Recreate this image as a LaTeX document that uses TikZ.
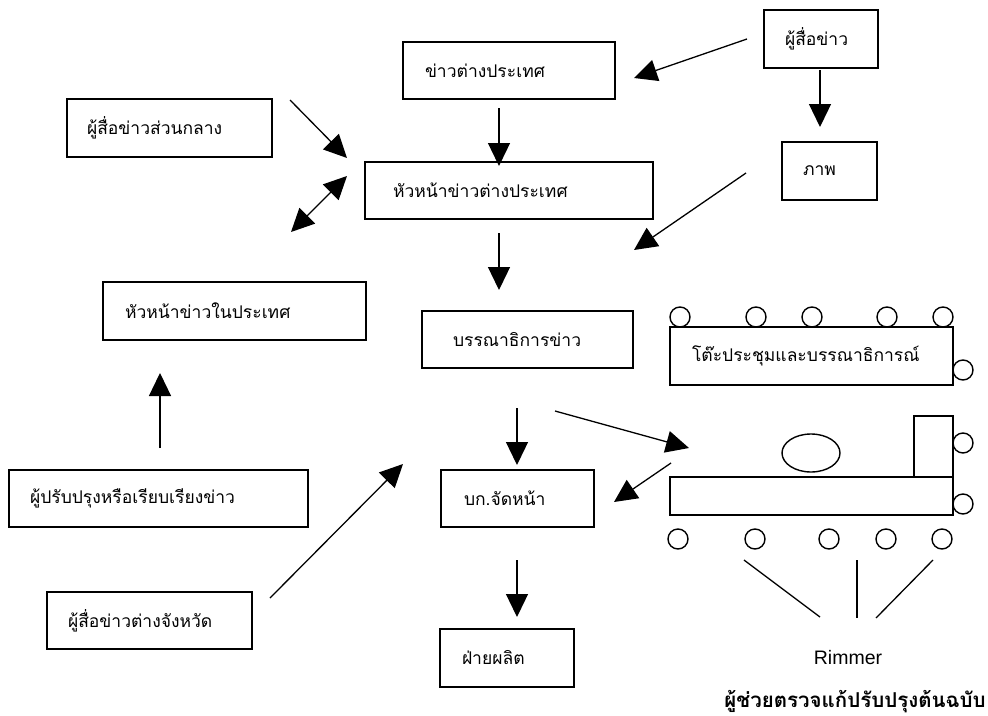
\documentclass[tikz,border=0pt]{standalone}
\usepackage{fontspec}
\newfontfamily\thaifont[Script=Thai]{Loma}
\setsansfont{Liberation Sans}
\usetikzlibrary{arrows.meta}
\begin{document}
\begin{tikzpicture}[x=1pt,y=-1pt,
  box/.style={draw, line width=1.4pt, align=left, inner ysep=0pt,
    font=\thaifont\fontsize{17.5}{20}\selectfont},
  arr/.style={line width=1.3pt, -{Triangle[length=23pt,width=22pt]}},
  darr/.style={line width=1.3pt, {Triangle[length=23pt,width=22pt]}-{Triangle[length=23pt,width=22pt]}},
  furn/.style={line width=1.4pt},
]
\useasboundingbox (0,0) rectangle (988,715);
% boxes
\node[box, inner xsep=22pt, text width=168pt, minimum height=57pt] (kt) at (509,70.5) {ข่าวต่างประเทศ};
\node[box, inner xsep=21pt, text width=72pt, minimum height=58pt] (ps) at (821,39) {ผู้สื่อข่าว};
\node[box, inner xsep=20pt, text width=165pt, minimum height=58pt] (psc) at (169.5,128) {ผู้สื่อข่าวส่วนกลาง};
\node[box, inner xsep=28pt, text width=232pt, minimum height=57pt] (hkt) at (509,190.5) {หัวหน้าข่าวต่างประเทศ};
\node[box, inner xsep=21pt, text width=53pt, minimum height=58pt] (pic) at (829.5,171) {ภาพ};
\node[box, inner xsep=22pt, text width=219pt, minimum height=58pt] (hni) at (234.5,311) {หัวหน้าข่าวในประเทศ};
\node[box, inner xsep=31pt, text width=149pt, minimum height=57pt] (ed) at (527.5,339.5) {บรรณาธิการข่าว};
\node[box, inner xsep=22pt, text width=239pt, minimum height=58pt] (tbl) at (811.5,356) {โต๊ะประชุมและบรรณาธิการณ์};
\node[box, inner xsep=23pt, text width=107pt, minimum height=57pt] (pl) at (517.5,498.5) {บก.จัดหน้า};
\node[box, inner xsep=22pt, text width=90pt, minimum height=58pt] (pr) at (507,658) {ฝ่ายผลิต};
\node[box, inner xsep=21pt, text width=257pt, minimum height=57pt] (rw) at (158.5,498.5) {ผู้ปรับปรุงหรือเรียบเรียงข่าว};
\node[box, inner xsep=21pt, text width=163pt, minimum height=57pt] (pv) at (149.5,620.5) {ผู้สื่อข่าวต่างจังหวัด};
% arrow end points
\coordinate (a1s) at (747,39);  \coordinate (a1e) at (634,78);
\coordinate (a2s) at (820,70);  \coordinate (a2e) at (820,127);
\coordinate (a3s) at (499,108); \coordinate (a3e) at (499,166);
\coordinate (a4s) at (290,100); \coordinate (a4e) at (347,158);
\coordinate (a5s) at (347,176); \coordinate (a5e) at (291,232);
\coordinate (a6s) at (746,173); \coordinate (a6e) at (634,250);
\coordinate (a7s) at (499,233); \coordinate (a7e) at (499,290);
\coordinate (a8s) at (160,448); \coordinate (a8e) at (160,373);
\coordinate (a9s) at (270,598); \coordinate (a9e) at (403,464);
\coordinate (a10s) at (517,408); \coordinate (a10e) at (517,465);
\coordinate (a11s) at (555,411); \coordinate (a11e) at (689,448);
\coordinate (a12s) at (671,463); \coordinate (a12e) at (614,502);
\coordinate (a13s) at (517,560); \coordinate (a13e) at (517,617);
\draw[arr] (a1s) -- (a1e);
\draw[arr] (a2s) -- (a2e);
\draw[arr] (a3s) -- (a3e);
\draw[arr] (a4s) -- (a4e);
\draw[darr] (a5s) -- (a5e);
\draw[arr] (a6s) -- (a6e);
\draw[arr] (a7s) -- (a7e);
\draw[arr] (a8s) -- (a8e);
\draw[arr] (a9s) -- (a9e);
\draw[arr] (a10s) -- (a10e);
\draw[arr] (a11s) -- (a11e);
\draw[arr] (a12s) -- (a12e);
\draw[arr] (a13s) -- (a13e);
% meeting table circles
\foreach \cx in {680,756,812,887,943} \draw[furn] (\cx,317) circle (10pt);
\draw[furn] (963,370) circle (10pt);
% rimmer table
\draw[furn] (670,477) rectangle (953,515);
\draw[furn] (914,477) rectangle (953,416);
\draw[furn] (811,453) ellipse (29pt and 19pt);
\draw[furn] (963,443) circle (10pt);
\draw[furn] (963,504) circle (10pt);
\foreach \cx in {678,755,829,886,942} \draw[furn] (\cx,539) circle (10pt);
\draw[line width=1.3pt] (744,560) -- (820,617);
\draw[line width=1.3pt] (857,560) -- (857,618);
\draw[line width=1.3pt] (933,560) -- (876,618);
\node[font=\sffamily\fontsize{19.5}{22}\selectfont] (rim) at (848,658) {Rimmer};
\node[font=\thaifont\bfseries\fontsize{20.5}{24}\selectfont] (rimth) at (855,702) {ผู้ช่วยตรวจแก้ปรับปรุงต้นฉบับ};
\end{tikzpicture}
\end{document}
